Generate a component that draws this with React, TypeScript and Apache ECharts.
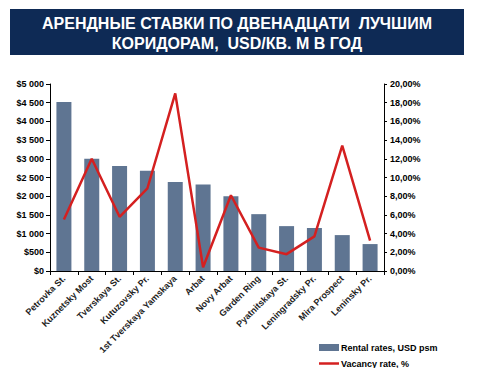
import React, { useEffect, useRef } from "react";
import * as echarts from "echarts";

const categories = [
  "Petrovka St.",
  "Kuznetsky Most",
  "Tverskaya St.",
  "Kutuzovsky Pr.",
  "1st Tverskaya Yamskaya",
  "Arbat",
  "Novy Arbat",
  "Garden Ring",
  "Pyatnitskaya St.",
  "Leningradsky Pr.",
  "Mira Prospect",
  "Leninsky Pr.",
];
const rentalRates = [4520, 3000, 2810, 2680, 2380, 2310, 2000, 1520, 1200, 1150, 960, 720];
const vacancyRates = [5.5, 12.0, 5.8, 8.85, 19.0, 0.4, 8.1, 2.5, 1.8, 3.7, 13.4, 3.25];
const titleLines = ["АРЕНДНЫЕ СТАВКИ ПО ДВЕНАДЦАТИ  ЛУЧШИМ", "КОРИДОРАМ,  USD/КВ. М В ГОД"];
const seriesNames = ["Rental rates, USD psm", "Vacancy rate, %"];

const FONT = "'Liberation Sans', Arial, sans-serif";

function fmtUsd(v: number) {
  const s = String(Math.round(v));
  const withSpace = s.length > 3 ? s.slice(0, s.length - 3) + " " + s.slice(-3) : s;
  return "$" + withSpace;
}

export default function App() {
  const ref = useRef<HTMLDivElement>(null);
  useEffect(() => {
    if (!ref.current) return;
    const chart = echarts.init(ref.current, undefined, { renderer: "svg" });
    chart.setOption({
      animation: false,
      backgroundColor: "#ffffff",
      textStyle: { fontFamily: FONT },
      graphic: [
        {
          type: "rect",
          shape: { x: 10, y: 9, width: 454, height: 46 },
          style: { fill: "#0E2A55" },
        },
        {
          type: "text",
          x: 237,
          y: 23,
          style: {
            text: titleLines[0],
            fill: "#ffffff",
            font: `bold 16px ${FONT}`,
            textAlign: "center",
            textVerticalAlign: "middle",
          },
        },
        {
          type: "text",
          x: 237,
          y: 43,
          style: {
            text: titleLines[1],
            fill: "#ffffff",
            font: `bold 16px ${FONT}`,
            textAlign: "center",
            textVerticalAlign: "middle",
          },
        },
      ],
      legend: {
        orient: "vertical",
        left: 319,
        top: 343,
        padding: 0,
        itemWidth: 20,
        itemHeight: 7,
        itemGap: 7,
        symbolKeepAspect: true,
        textStyle: { fontSize: 9, fontWeight: "bold", color: "#000", fontFamily: FONT, padding: [0, 0, 0, -3] },
        data: [
          { name: seriesNames[0], icon: "rect" },
          { name: seriesNames[1], icon: "path://M0,0L40,0L40,5L0,5Z", itemStyle: { color: "#D42020" } },
        ],
      },
      grid: { left: 50, right: 104, top: 84, bottom: 97 },
      xAxis: {
        type: "category",
        data: categories,
        boundaryGap: true,
        axisLine: { lineStyle: { color: "#000", width: 1 } },
        axisTick: { show: true, alignWithLabel: false, length: 4, lineStyle: { color: "#000" } },
        axisLabel: {
          rotate: 45,
          interval: 0,
          fontSize: 9,
          fontWeight: "bold",
          color: "#222",
          fontFamily: FONT,
          margin: 6,
        },
      },
      yAxis: [
        {
          type: "value",
          min: 0,
          max: 5000,
          interval: 500,
          axisLine: { show: true, lineStyle: { color: "#000" } },
          axisTick: { show: true, length: 4, lineStyle: { color: "#000" } },
          splitLine: { show: false },
          axisLabel: {
            formatter: (v: number) => fmtUsd(v),
            fontSize: 9,
            fontWeight: "bold",
            color: "#000",
            fontFamily: FONT,
            margin: 6,
          },
        },
        {
          type: "value",
          min: 0,
          max: 20,
          interval: 2,
          position: "right",
          axisLine: { show: true, lineStyle: { color: "#000" } },
          axisTick: { show: true, length: 3, lineStyle: { color: "#000" } },
          splitLine: { show: false },
          axisLabel: {
            formatter: (v: number) => v.toFixed(2).replace(".", ",") + "%",
            fontSize: 9,
            fontWeight: "bold",
            color: "#000",
            fontFamily: FONT,
            margin: 6,
          },
        },
      ],
      series: [
        {
          name: seriesNames[0],
          type: "bar",
          data: rentalRates,
          barWidth: 15,
          itemStyle: { color: "#5F7592" },
        },
        {
          name: seriesNames[1],
          type: "line",
          yAxisIndex: 1,
          data: vacancyRates,
          symbol: "none",
          lineStyle: { color: "#D42020", width: 2.5 },
          itemStyle: { color: "#D42020" },
        },
      ],
    });
    return () => chart.dispose();
  }, []);
  return (
    <div
      ref={ref}
      style={{ position: "fixed", left: 0, top: 0, width: 488, height: 368 }}
    />
  );
}
